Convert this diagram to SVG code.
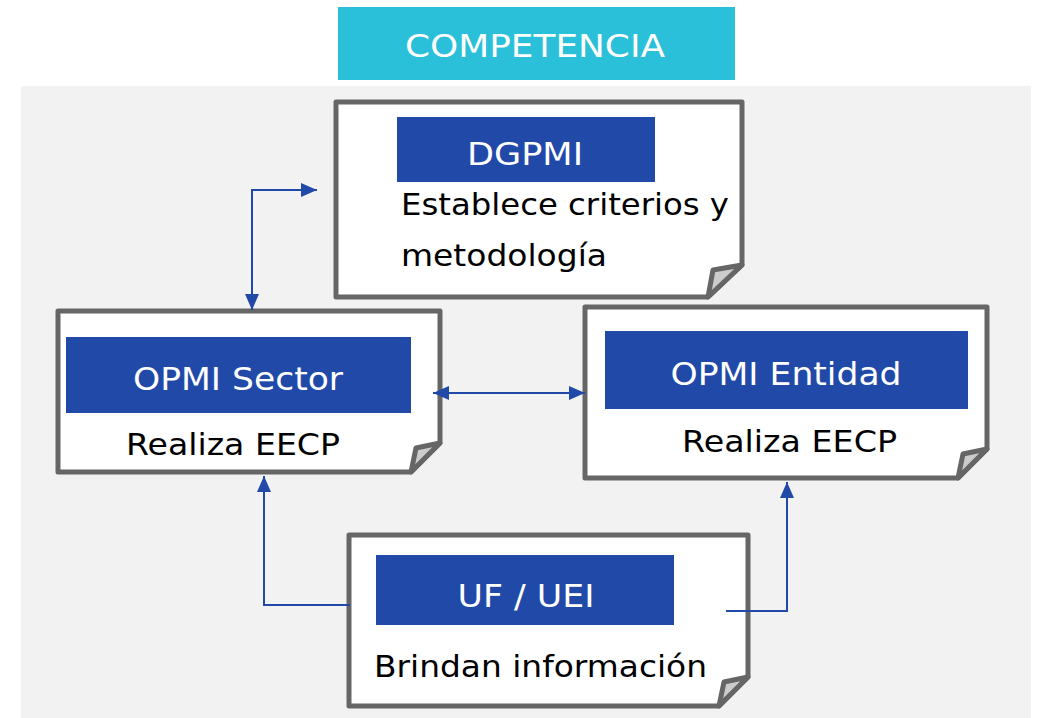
<svg xmlns="http://www.w3.org/2000/svg" width="1051" height="718" viewBox="0 0 1051 718">
<defs>
<style>
.note{fill:#fff;stroke:#666;stroke-width:5;stroke-linejoin:round}
.fold{fill:#ccc;stroke:#666;stroke-width:5;stroke-linejoin:round}
.hdr{fill:#2149A8}
.ht{font-family:"DejaVu Sans","Open Sans",sans-serif;font-size:32px;fill:#fff;text-anchor:middle}
.bt{font-family:"DejaVu Sans","Open Sans",sans-serif;font-size:30px;fill:#000}
.c{fill:none;stroke:#2149A8;stroke-width:2}
</style>
<marker id="ah" markerUnits="userSpaceOnUse" markerWidth="16" markerHeight="14" refX="16" refY="7" orient="auto-start-reverse" viewBox="0 0 16 14">
<path d="M0,0 L16,7 L0,14 Z" fill="#2149A8"/>
</marker>
</defs>
<rect x="0" y="0" width="1051" height="718" fill="#fff"/>
<rect x="21" y="86" width="1010" height="632" fill="#f2f2f2"/>
<g id="title">
<rect x="338" y="7" width="397" height="73" fill="#2BC0D9"/>
<text x="535" y="57" class="ht" textLength="260" lengthAdjust="spacingAndGlyphs">COMPETENCIA</text>
</g>
<g id="dgpmi">
<path class="note" d="M336,102 H742 V265 L708,297 H336 Z"/>
<path class="fold" d="M742,265 L713,270 L708,297 Z"/>
<rect class="hdr" x="397" y="117" width="258" height="65"/>
<text x="525" y="165" class="ht" textLength="116" lengthAdjust="spacingAndGlyphs">DGPMI</text>
<text x="401" y="215" class="bt" textLength="328" lengthAdjust="spacingAndGlyphs">Establece criterios y</text>
<text x="401" y="266" class="bt" textLength="206" lengthAdjust="spacingAndGlyphs">metodología</text>
</g>
<g id="opmi-sector">
<path class="note" d="M58,311 H440 V443 L411,472 H58 Z"/>
<path class="fold" d="M440,443 L416,448 L411,472 Z"/>
<rect class="hdr" x="66" y="337" width="345" height="76"/>
<text x="238" y="390" class="ht" textLength="210" lengthAdjust="spacingAndGlyphs">OPMI Sector</text>
<text x="126" y="455" class="bt" textLength="214" lengthAdjust="spacingAndGlyphs">Realiza EECP</text>
</g>
<g id="opmi-entidad">
<path class="note" d="M585,307 H987 V449 L958,478 H585 Z"/>
<path class="fold" d="M987,449 L963,454 L958,478 Z"/>
<rect class="hdr" x="605" y="331" width="363" height="78"/>
<text x="786" y="385" class="ht" textLength="231" lengthAdjust="spacingAndGlyphs">OPMI Entidad</text>
<text x="682" y="452" class="bt" textLength="215" lengthAdjust="spacingAndGlyphs">Realiza EECP</text>
</g>
<g id="uf-uei">
<path class="note" d="M349,535 H748 V677 L719,706 H349 Z"/>
<path class="fold" d="M748,677 L724,682 L719,706 Z"/>
<rect class="hdr" x="376" y="555" width="298" height="70"/>
<text x="526" y="607" class="ht" textLength="137" lengthAdjust="spacingAndGlyphs">UF / UEI</text>
<text x="374" y="677" class="bt" textLength="333" lengthAdjust="spacingAndGlyphs">Brindan información</text>
</g>
<g id="connectors">
<path class="c" d="M317,190 H252 V310" marker-start="url(#ah)" marker-end="url(#ah)"/>
<path class="c" d="M433,393 H585" marker-start="url(#ah)" marker-end="url(#ah)"/>
<path class="c" d="M350,605 H264 V476" marker-end="url(#ah)"/>
<path class="c" d="M726,611 H787 V482" marker-end="url(#ah)"/>
</g>
</svg>
